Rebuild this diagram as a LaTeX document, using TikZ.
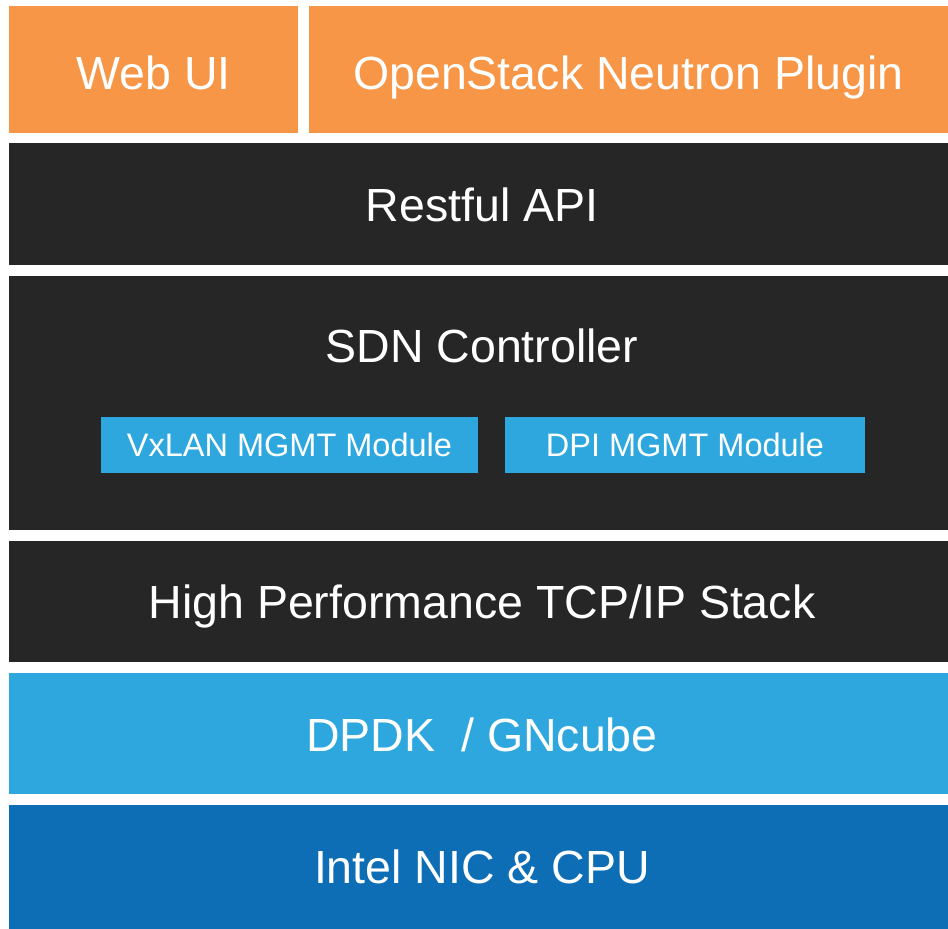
\documentclass[tikz,border=0pt]{standalone}
\usepackage{fontspec}
\setmainfont{Liberation Sans}
\definecolor{orangeB}{HTML}{F79646}
\definecolor{darkB}{HTML}{262626}
\definecolor{lightB}{HTML}{2EA7DE}
\definecolor{deepB}{HTML}{0D6EB6}
\tikzset{
  layer/.style={rectangle, inner sep=0pt, outer sep=0pt, text=white,
    font=\fontsize{46.5}{56}\selectfont, text height=33pt, text depth=0pt},
  subbox/.style={rectangle, inner sep=0pt, outer sep=0pt, fill=lightB, text=white,
    font=\fontsize{32.5}{39}\selectfont, text height=23.3pt, text depth=0pt},
  bigtext/.style={inner sep=0pt, text=white, font=\fontsize{46.5}{56}\selectfont}
}
\begin{document}
\begin{tikzpicture}[x=1pt,y=-1pt]
\useasboundingbox[fill=white] (0,0) rectangle (948,929);
\node[layer, fill=orangeB, minimum width=289pt, minimum height=127pt, text height=40pt] (web) at (153.5,69.5) {Web UI};
\node[layer, fill=orangeB, minimum width=639pt, minimum height=127pt, text height=40pt] (neutron) at (628.5,69.5) {OpenStack Neutron Plugin};
\node[layer, fill=darkB, minimum width=939pt, minimum height=122pt, text height=35.6pt] (rest) at (478.5,204) {\hspace*{7pt}Restful API};
\node[layer, fill=darkB, minimum width=939pt, minimum height=254pt] (sdn) at (478.5,403) {};
\node[bigtext, anchor=base] (sdntext) at (482,362.3) {SDN Controller};
\node[subbox, minimum width=377pt, minimum height=56pt] (vxlan) at (289.5,445) {VxLAN MGMT Module};
\node[subbox, minimum width=360pt, minimum height=56pt] (dpi) at (685,445) {DPI MGMT Module};
\node[layer, fill=darkB, minimum width=939pt, minimum height=121pt] (tcp) at (478.5,601.5) {\hspace*{7pt}High Performance TCP/IP Stack};
\node[layer, fill=lightB, minimum width=939pt, minimum height=121pt, text height=35pt] (dpdk) at (478.5,733.5) {\hspace*{7pt}DPDK~ / GNcube};
\node[layer, fill=deepB, minimum width=939pt, minimum height=124pt] (intel) at (478.5,867) {\hspace*{7pt}Intel NIC \& CPU};
\end{tikzpicture}
\end{document}
